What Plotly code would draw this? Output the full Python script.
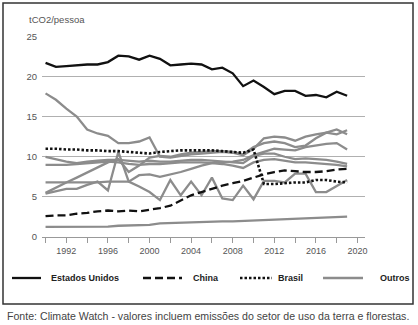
import plotly.graph_objects as go

# Emissões per capita (tCO2/pessoa), 1990-2019
anos = list(range(1990, 2020))

estados_unidos = [21.7, 21.2, 21.3, 21.4, 21.5, 21.5, 21.8, 22.6, 22.5, 22.1,
                  22.6, 22.2, 21.4, 21.5, 21.6, 21.5, 20.9, 21.1, 20.4, 18.8,
                  19.5, 18.7, 17.8, 18.2, 18.2, 17.6, 17.7, 17.4, 18.1, 17.6]

china = [2.6, 2.7, 2.7, 2.9, 3.0, 3.2, 3.3, 3.2, 3.3, 3.2,
         3.4, 3.6, 3.9, 4.5, 5.2, 5.6, 6.0, 6.4, 6.7, 7.0,
         7.4, 7.8, 8.1, 8.3, 8.2, 8.1, 8.1, 8.2, 8.4, 8.5]

brasil = [11.0, 11.0, 10.9, 10.9, 10.8, 10.8, 10.7, 10.7, 10.6, 10.5,
          10.4, 10.6, 10.7, 10.8, 10.8, 10.8, 10.8, 10.7, 10.6, 10.5,
          10.9, 6.6, 6.6, 6.7, 6.8, 6.8, 7.1, 7.1, 6.9, 6.8]

# Demais países, todos na mesma cor
outros = [
    [17.9, 17.1, 16.0, 15.0, 13.4, 12.9, 12.6, 11.7, 11.7, 11.9,
     12.4, 10.0, 9.9, 10.1, 10.3, 10.4, 10.5, 10.6, 10.5, 10.2,
     11.0, 12.3, 12.5, 12.4, 12.0, 12.5, 12.8, 13.0, 12.8, 13.3],
    [5.5, 6.2, 6.8, 7.4, 8.0, 8.6, 9.3, 9.7, 8.1, 8.9,
     9.9, 10.1, 10.0, 10.3, 10.5, 10.6, 10.7, 10.7, 10.6, 10.3,
     11.2, 11.7, 11.9, 11.7, 11.2, 11.4, 12.3, 13.0, 13.4, 12.8],
    [6.8, 6.8, 6.8, 6.8, 6.8, 6.8, 6.9, 6.9, 6.9, 7.7,
     7.8, 7.5, 7.8, 8.1, 8.5, 8.9, 9.2, 9.3, 9.4, 9.6,
     10.2, 10.6, 11.0, 10.9, 10.8, 11.2, 11.4, 11.6, 11.7, 10.9],
    [10.0, 9.7, 9.4, 9.2, 9.4, 9.5, 9.6, 9.6, 9.5, 9.4,
     9.5, 9.4, 9.4, 9.5, 9.6, 9.6, 9.5, 9.4, 9.3, 9.2,
     10.1, 10.4, 10.4, 10.0, 9.7, 9.8, 9.7, 9.6, 9.4, 9.1],
    [9.0, 9.0, 9.0, 9.1, 9.2, 9.3, 9.4, 9.3, 9.1, 9.0,
     9.1, 9.1, 9.2, 9.3, 9.3, 9.3, 9.2, 9.1, 8.9, 8.6,
     9.3, 9.6, 9.7, 9.5, 9.3, 9.3, 9.2, 9.1, 9.0, 8.8],
    [5.4, 5.7, 6.0, 6.0, 6.5, 6.9, 5.8, 10.6, 6.9, 6.3,
     5.6, 4.6, 7.1, 5.2, 6.9, 5.2, 7.4, 4.8, 4.6, 6.4,
     4.7, 7.0, 7.0, 6.8, 7.9, 7.9, 5.6, 5.6, 6.3, 7.1],
    [1.25, 1.25, 1.25, 1.25, 1.25, 1.3, 1.3, 1.4, 1.45, 1.45,
     1.5, 1.7, 1.75, 1.75, 1.8, 1.85, 1.9, 1.95, 1.95, 2.0,
     2.05, 2.1, 2.15, 2.2, 2.3, 2.3, 2.35, 2.4, 2.5, 2.55],
]

legenda = ["Estados Unidos", "China", "Brasil", "Outros"]

FONT = "Liberation Sans, Arial, sans-serif"
CINZA = "#8c8c8c"
PRETO = "#111111"

estilos = {
    "Estados Unidos": dict(color=PRETO, width=2.3),
    "China": dict(color=PRETO, width=2.3, dash="8px,4px"),
    "Brasil": dict(color=PRETO, width=2.6, dash="2.5px,2px"),
    "Outros": dict(color=CINZA, width=2.3),
}

fig = go.Figure()

for serie in outros:
    fig.add_trace(go.Scatter(x=anos, y=serie, mode="lines", name="Outros",
                             line=estilos["Outros"], showlegend=False))

for nome, serie in [("Brasil", brasil), ("China", china),
                    ("Estados Unidos", estados_unidos)]:
    fig.add_trace(go.Scatter(x=anos, y=serie, mode="lines", name=nome,
                             line=estilos[nome], showlegend=False))

# Área de plotagem em pixels (para posicionar a legenda desenhada à mão)
L, T, W, H = 42, 36, 323, 201


def px_x(px):
    return (px - L) / W


def px_y(py):
    return (T + H - py) / H


# Legenda horizontal abaixo do gráfico: segmento de linha + rótulo em negrito
leg_linhas = {"Estados Unidos": (12, 41), "China": (143, 182),
              "Brasil": (240, 272), "Outros": (323, 363)}
leg_textos = {"Estados Unidos": 49, "China": 191, "Brasil": 276, "Outros": 378}
LEG_Y = 278

shapes = [
    dict(type="rect", xref="paper", yref="paper",
         x0=px_x(3), x1=px_x(413), y0=px_y(304), y1=px_y(3),
         line=dict(color="#333333", width=1.5), fillcolor="rgba(0,0,0,0)",
         layer="below"),
]
annotations = [
    dict(text="tCO2/pessoa", xref="paper", yref="paper",
         x=px_x(27), y=px_y(20), xanchor="left", yanchor="middle",
         showarrow=False, font=dict(family=FONT, size=9.5, color="#555555")),
    dict(text="Fonte: Climate Watch - valores incluem emissões do setor de uso da terra e florestas.",
         xref="paper", yref="paper", x=px_x(208), y=px_y(316),
         xanchor="center", yanchor="middle", showarrow=False,
         font=dict(family=FONT, size=10.6, color="#444444")),
]
for nome in legenda:
    a, b = leg_linhas[nome]
    shapes.append(dict(type="line", xref="paper", yref="paper",
                       x0=px_x(a), x1=px_x(b), y0=px_y(LEG_Y), y1=px_y(LEG_Y),
                       line=estilos[nome]))
    annotations.append(dict(text=nome, xref="paper", yref="paper",
                            x=px_x(leg_textos[nome]), y=px_y(LEG_Y),
                            xanchor="left", yanchor="middle", showarrow=False,
                            font=dict(family=FONT, size=9, color="#222222",
                                      weight="bold")))

fig.update_layout(
    width=418, height=325,
    margin=dict(l=L, r=418 - L - W, t=T, b=325 - T - H),
    paper_bgcolor="white", plot_bgcolor="white",
    font=dict(family=FONT, color="#555555", size=9),
    showlegend=False,
    xaxis=dict(
        range=[1989.66, 2020.72],
        tick0=1992, dtick=4, ticks="outside", ticklen=5, tickcolor="#999999",
        minor=dict(tick0=1990, dtick=2, ticks="outside", ticklen=5,
                   tickcolor="#999999", showgrid=False),
        showline=True, linecolor="#999999", linewidth=1,
        showgrid=False, zeroline=False,
        tickfont=dict(size=9, color="#555555"),
    ),
    yaxis=dict(
        range=[0, 25.05], tick0=0, dtick=5,
        showgrid=True, gridcolor="#b0b0b0", gridwidth=1,
        showline=False, zeroline=False, ticks="",
        ticklabelstandoff=4,
        tickfont=dict(size=9.5, color="#555555"),
    ),
    annotations=annotations,
    shapes=shapes,
)

fig.write_html("out.html")
